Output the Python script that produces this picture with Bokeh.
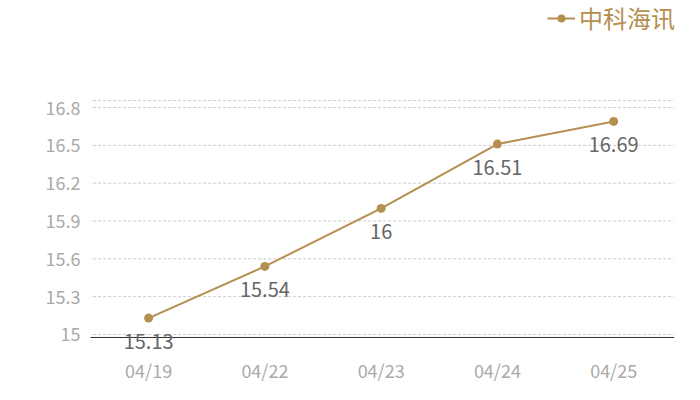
from bokeh.plotting import figure
from bokeh.models import ColumnDataSource, FixedTicker, Legend, LegendItem
from bokeh.core.properties import value
from bokeh.embed import file_html
from bokeh.resources import INLINE

dates = ["04/19", "04/22", "04/23", "04/24", "04/25"]
values = [15.13, 15.54, 16.0, 16.51, 16.69]
labels = ["15.13", "15.54", "16", "16.51", "16.69"]
y_ticks = [15, 15.3, 15.6, 15.9, 16.2, 16.5, 16.8]
y_tick_labels = ["15", "15.3", "15.6", "15.9", "16.2", "16.5", "16.8"]
series_name = "中科海讯"

# plot area limits (top dashed border, bottom axis line) and full frame extent
axis_top, axis_bottom = 16.855, 14.976
frame_start, frame_end = 14.849, 17.649
idx = list(range(len(dates)))
x_lo, x_hi = idx[0] - 0.52, idx[-1] + 0.52
x_frame_start, x_frame_end = idx[0] - 0.5, idx[-1] + 0.661

FONT = "Noto Sans CJK SC"
GOLD = "#b58f4f"

src = ColumnDataSource(dict(x=idx, y=values, label=labels))

W, H = 690, 390
p = figure(x_range=(x_frame_start, x_frame_end), y_range=(frame_start, frame_end), width=W, height=H,
           output_backend="svg", toolbar_location=None,
           min_border_left=90, min_border_right=0, min_border_top=0, min_border_bottom=H - 353)
p.outline_line_color = None
p.background_fill_color = "white"
p.border_fill_color = "white"
p.xgrid.grid_line_color = None
p.ygrid.grid_line_color = None

# horizontal grid lines limited to the plot area
grid_y = y_ticks + [axis_top]
p.segment(x0=[x_lo] * len(grid_y), x1=[x_hi] * len(grid_y), y0=grid_y, y1=grid_y,
          line_color="#cccccc", line_dash="3 2", line_width=1, level="underlay")
p.segment(x0=[x_lo], x1=[x_hi], y0=[axis_bottom], y1=[axis_bottom],
          line_color="#333333", line_width=1, level="underlay")

p.yaxis.ticker = FixedTicker(ticks=y_ticks)
p.yaxis.major_label_overrides = {t: s for t, s in zip(y_ticks, y_tick_labels)}
p.yaxis.axis_line_color = None
p.yaxis.major_tick_line_color = None
p.yaxis.minor_tick_line_color = None
p.yaxis.major_label_text_color = "#aaaaaa"
p.yaxis.major_label_text_font = FONT
p.yaxis.major_label_text_font_size = "18px"
p.yaxis.major_label_standoff = 4

p.xaxis.ticker = FixedTicker(ticks=idx)
p.xaxis.major_label_overrides = {i: d for i, d in zip(idx, dates)}
p.xaxis.axis_line_color = None
p.xaxis.major_tick_line_color = None
p.xaxis.minor_tick_line_color = None
p.xaxis.major_label_text_color = "#aaaaaa"
p.xaxis.major_label_text_font = FONT
p.xaxis.major_label_text_font_size = "18px"
p.xaxis.major_label_standoff = -3

ln = p.line("x", "y", source=src, line_color=GOLD, line_width=2)
sc = p.scatter("x", "y", source=src, size=9, fill_color=GOLD, line_color=GOLD, line_width=0)

p.text("x", "y", text="label", source=src, text_align="center", text_baseline="middle",
       y_offset=23, text_color="#666666", text_font_size="20px", text_font=value(FONT))

legend = Legend(items=[LegendItem(label=series_name, renderers=[ln, sc])],
                location=(457, 318), orientation="horizontal",
                label_text_font=FONT, label_text_font_size="24px", label_text_color=GOLD,
                border_line_color=None, background_fill_alpha=0,
                glyph_width=28, glyph_height=20, padding=2, spacing=4, label_standoff=4, margin=0)
p.add_layout(legend)

open("out.html", "w").write(file_html(p, INLINE))
